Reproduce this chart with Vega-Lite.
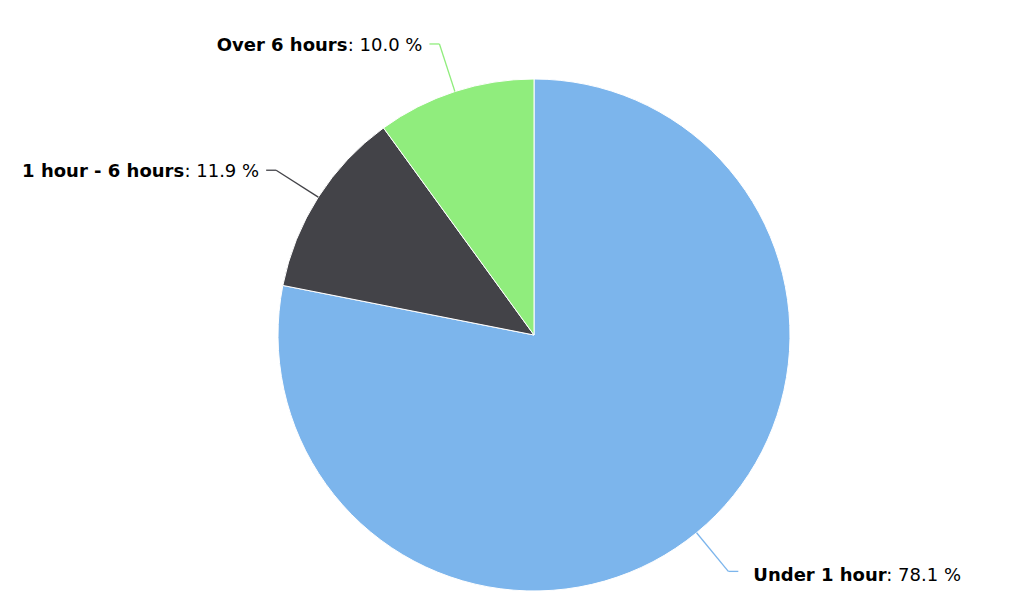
{
  "$schema": "https://vega.github.io/schema/vega-lite/v6.json",
  "width": 980,
  "height": 538,
  "padding": {"left": 44, "top": 66, "right": 0, "bottom": 0},
  "autosize": {"type": "none"},
  "background": "white",
  "config": {"view": {"stroke": null}, "text": {"font": "DejaVu Sans", "fontSize": 18, "color": "#000000"}},
  "data": {"values": [
    {"name": "Under 1 hour", "pct": 78.1, "ord": 1},
    {"name": "1 hour - 6 hours", "pct": 11.9, "ord": 2},
    {"name": "Over 6 hours", "pct": 10.0, "ord": 3}
  ]},
  "transform": [
    {"stack": "pct", "groupby": [], "sort": [{"field": "ord"}], "as": ["s0", "s1"]},
    {"calculate": "PI*(datum.s0+datum.s1)/100", "as": "a"},
    {"calculate": "256*sin(datum.a)", "as": "ex"},
    {"calculate": "256*cos(datum.a)", "as": "ey"},
    {"calculate": "306*sin(datum.a)", "as": "bx"},
    {"calculate": "306*cos(datum.a)", "as": "by"},
    {"calculate": "datum.bx < 0 ? datum.bx - 10 : datum.bx + 10", "as": "cx"},
    {"calculate": "': ' + format(datum.pct, '.1f') + ' %'", "as": "val"}
  ],
  "layer": [
    {
      "mark": {"type": "arc", "outerRadius": 256, "stroke": "white", "strokeWidth": 1},
      "encoding": {
        "theta": {"field": "pct", "type": "quantitative", "stack": true},
        "order": {"field": "ord", "type": "quantitative"},
        "color": {"field": "name", "type": "nominal", "legend": null,
          "scale": {"domain": ["Under 1 hour", "1 hour - 6 hours", "Over 6 hours"], "range": ["#7cb5ec", "#434348", "#90ed7d"]}}
      }
    },
    {
      "mark": {"type": "rule", "strokeWidth": 1.3},
      "encoding": {
        "x": {"field": "ex", "type": "quantitative", "scale": {"domain": [-490, 490], "nice": false, "zero": false}, "axis": null},
        "y": {"field": "ey", "type": "quantitative", "scale": {"domain": [-269, 269], "nice": false, "zero": false}, "axis": null},
        "x2": {"field": "bx"},
        "y2": {"field": "by"},
        "color": {"field": "name", "type": "nominal", "legend": null}
      }
    },
    {
      "mark": {"type": "rule", "strokeWidth": 1.3},
      "encoding": {
        "x": {"field": "bx", "type": "quantitative"},
        "y": {"field": "by", "type": "quantitative"},
        "x2": {"field": "cx"},
        "y2": {"field": "by"},
        "color": {"field": "name", "type": "nominal", "legend": null}
      }
    },
    {
      "transform": [{"filter": "datum.bx < 0"}],
      "mark": {"type": "text", "align": "right", "baseline": "middle", "dx": -7, "dy": 2},
      "encoding": {
        "x": {"field": "cx", "type": "quantitative"},
        "y": {"field": "by", "type": "quantitative"},
        "text": {"field": "val"}
      }
    },
    {
      "transform": [{"filter": "datum.bx < 0"}],
      "mark": {"type": "text", "align": "right", "baseline": "middle", "dx": -82, "dy": 2, "fontWeight": "bold"},
      "encoding": {
        "x": {"field": "cx", "type": "quantitative"},
        "y": {"field": "by", "type": "quantitative"},
        "text": {"field": "name"}
      }
    },
    {
      "transform": [{"filter": "datum.bx >= 0"}],
      "mark": {"type": "text", "align": "left", "baseline": "middle", "dx": 15, "dy": 5, "fontWeight": "bold"},
      "encoding": {
        "x": {"field": "cx", "type": "quantitative"},
        "y": {"field": "by", "type": "quantitative"},
        "text": {"field": "name"}
      }
    },
    {
      "transform": [{"filter": "datum.bx >= 0"}],
      "mark": {"type": "text", "align": "left", "baseline": "middle", "dx": 148, "dy": 5},
      "encoding": {
        "x": {"field": "cx", "type": "quantitative"},
        "y": {"field": "by", "type": "quantitative"},
        "text": {"field": "val"}
      }
    }
  ]
}
